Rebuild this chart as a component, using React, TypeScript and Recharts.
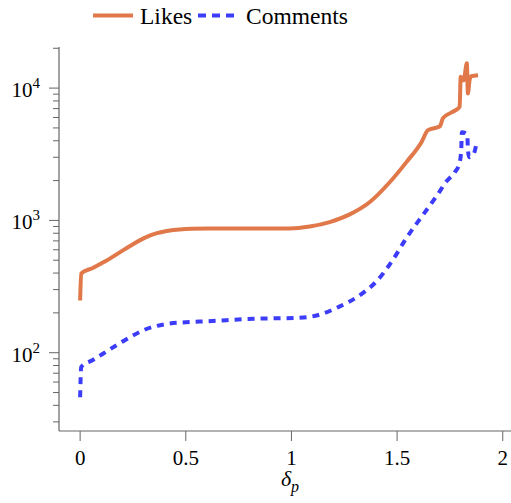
import React from 'react';
import { LineChart, Line, XAxis, YAxis } from 'recharts';

// delta_p values and counts
const likesX = [0, 0.005, 0.06, 0.11, 0.16, 0.21, 0.26, 0.31, 0.36, 0.41, 0.47, 0.6, 0.85, 0.992, 1.087, 1.181, 1.276, 1.371, 1.466, 1.545, 1.616, 1.646, 1.703, 1.717, 1.76, 1.796, 1.801, 1.815, 1.83, 1.835, 1.843, 1.851, 1.883];
const likesY = [248, 397, 437, 482, 538, 604, 676, 745, 798, 832, 855, 867, 870, 870, 900, 971, 1110, 1376, 1950, 2770, 3920, 4810, 5150, 5930, 6580, 7213, 12190, 11480, 15380, 9120, 11480, 12300, 12530];

const commentsX = [0, 0.005, 0.06, 0.12, 0.18, 0.24, 0.3, 0.36, 0.42, 0.5, 0.6, 0.835, 1.023, 1.118, 1.229, 1.339, 1.403, 1.481, 1.545, 1.624, 1.687, 1.735, 1.772, 1.796, 1.804, 1.806, 1.832, 1.835, 1.841, 1.862, 1.874];
const commentsY = [46, 78, 88, 101, 116, 132, 148, 159, 166, 170, 173, 181, 183, 191, 224, 283, 347, 507, 740, 1110, 1528, 1985, 2297, 2735, 3556, 4645, 4484, 3452, 3000, 3162, 3700];

const xTicks = [0, 0.5, 1, 1.5, 2];
const yMajor = [100, 1000, 10000];
const yMinor = [30, 40, 50, 60, 70, 80, 90, 200, 300, 400, 500, 600, 700, 800, 900, 2000, 3000, 4000, 5000, 6000, 7000, 8000, 9000, 20000];

const likesData = likesX.map((x, i) => ({ x, v: likesY[i] }));
const commentsData = commentsX.map((x, i) => ({ x, v: commentsY[i] }));

const FONT = "'Liberation Serif', 'DejaVu Serif', serif";
const AXIS = '#666';
const ORANGE = '#E0784A';
const BLUE = '#3C3CFA';
const textStyle = { fontFamily: FONT };

function LogTick(props: any) {
  const { x, y, payload } = props;
  const v = payload.value;
  const major = yMajor.includes(v);
  const exp = Math.round(Math.log10(v));
  return (
    <g>
      <line x1={x - (major ? 10 : 6)} x2={x} y1={y} y2={y} stroke={AXIS} strokeWidth={1} />
      {major && (
        <text x={x - 19} y={y + 9} textAnchor="end" style={textStyle} fontSize={21} fill="#000">
          10
          <tspan dy={-9} fontSize={15}>{exp}</tspan>
        </text>
      )}
    </g>
  );
}

function DeltaLabel(props: any) {
  const vb = props.viewBox;
  return (
    <text x={vb.x + vb.width / 2 + 5} y={vb.y + 55} textAnchor="middle" style={textStyle} fontStyle="italic" fontSize={22} fill="#000">
      δ
      <tspan dy={6} fontSize={16}>p</tspan>
    </text>
  );
}

function LegendBox() {
  return (
    <svg width={511} height={40} style={{ position: 'absolute', top: 0, left: 0 }}>
      <line x1={93} x2={133} y1={15.5} y2={15.5} stroke={ORANGE} strokeWidth={4} />
      <text x={140} y={23.5} style={textStyle} fontSize={23.5} fill="#000">Likes</text>
      <line x1={198} x2={235} y1={15.5} y2={15.5} stroke={BLUE} strokeWidth={4} strokeDasharray="8 6" />
      <text x={246} y={23.5} style={textStyle} fontSize={23.5} fill="#000">Comments</text>
    </svg>
  );
}

export default function App() {
  return (
    <div style={{ position: 'absolute', top: 0, left: 0, width: 511, height: 503, background: '#fff', fontFamily: FONT }}>
      <LineChart width={511} height={503} margin={{ top: 47, right: 0, left: 0, bottom: 0 }} style={textStyle}>
        <XAxis
          dataKey="x"
          type="number"
          domain={[-0.1, 2.039]}
          allowDataOverflow
          ticks={xTicks}
          interval={0}
          height={72}
          tickSize={10}
          tickMargin={9}
          tickLine={{ stroke: AXIS }}
          axisLine={{ stroke: AXIS, strokeWidth: 1.2 }}
          tick={{ fontSize: 21, fontFamily: FONT, fill: '#000' }}
          label={<DeltaLabel />}
        />
        <XAxis
          xAxisId="top"
          orientation="top"
          dataKey="x"
          type="number"
          domain={[-0.1, 2.039]}
          height={0}
          tick={false}
          tickLine={false}
          axisLine={{ stroke: '#444', strokeWidth: 1.2 }}
        />
        <YAxis
          dataKey="v"
          type="number"
          scale="log"
          domain={[25.6, 20450]}
          allowDataOverflow
          ticks={[...yMinor, ...yMajor].sort((a, b) => a - b)}
          interval={0}
          width={59}
          tickSize={0}
          tickMargin={0}
          tickLine={false}
          axisLine={{ stroke: AXIS, strokeWidth: 1.2 }}
          tick={<LogTick />}
        />
        <Line
          data={likesData}
          dataKey="v"
          type="monotone"
          stroke={ORANGE}
          strokeWidth={4}
          dot={false}
          isAnimationActive={false}
        />
        <Line
          data={commentsData}
          dataKey="v"
          type="monotone"
          stroke={BLUE}
          strokeWidth={4}
          strokeDasharray="7 6"
          dot={false}
          isAnimationActive={false}
        />
      </LineChart>
      <LegendBox />
    </div>
  );
}
